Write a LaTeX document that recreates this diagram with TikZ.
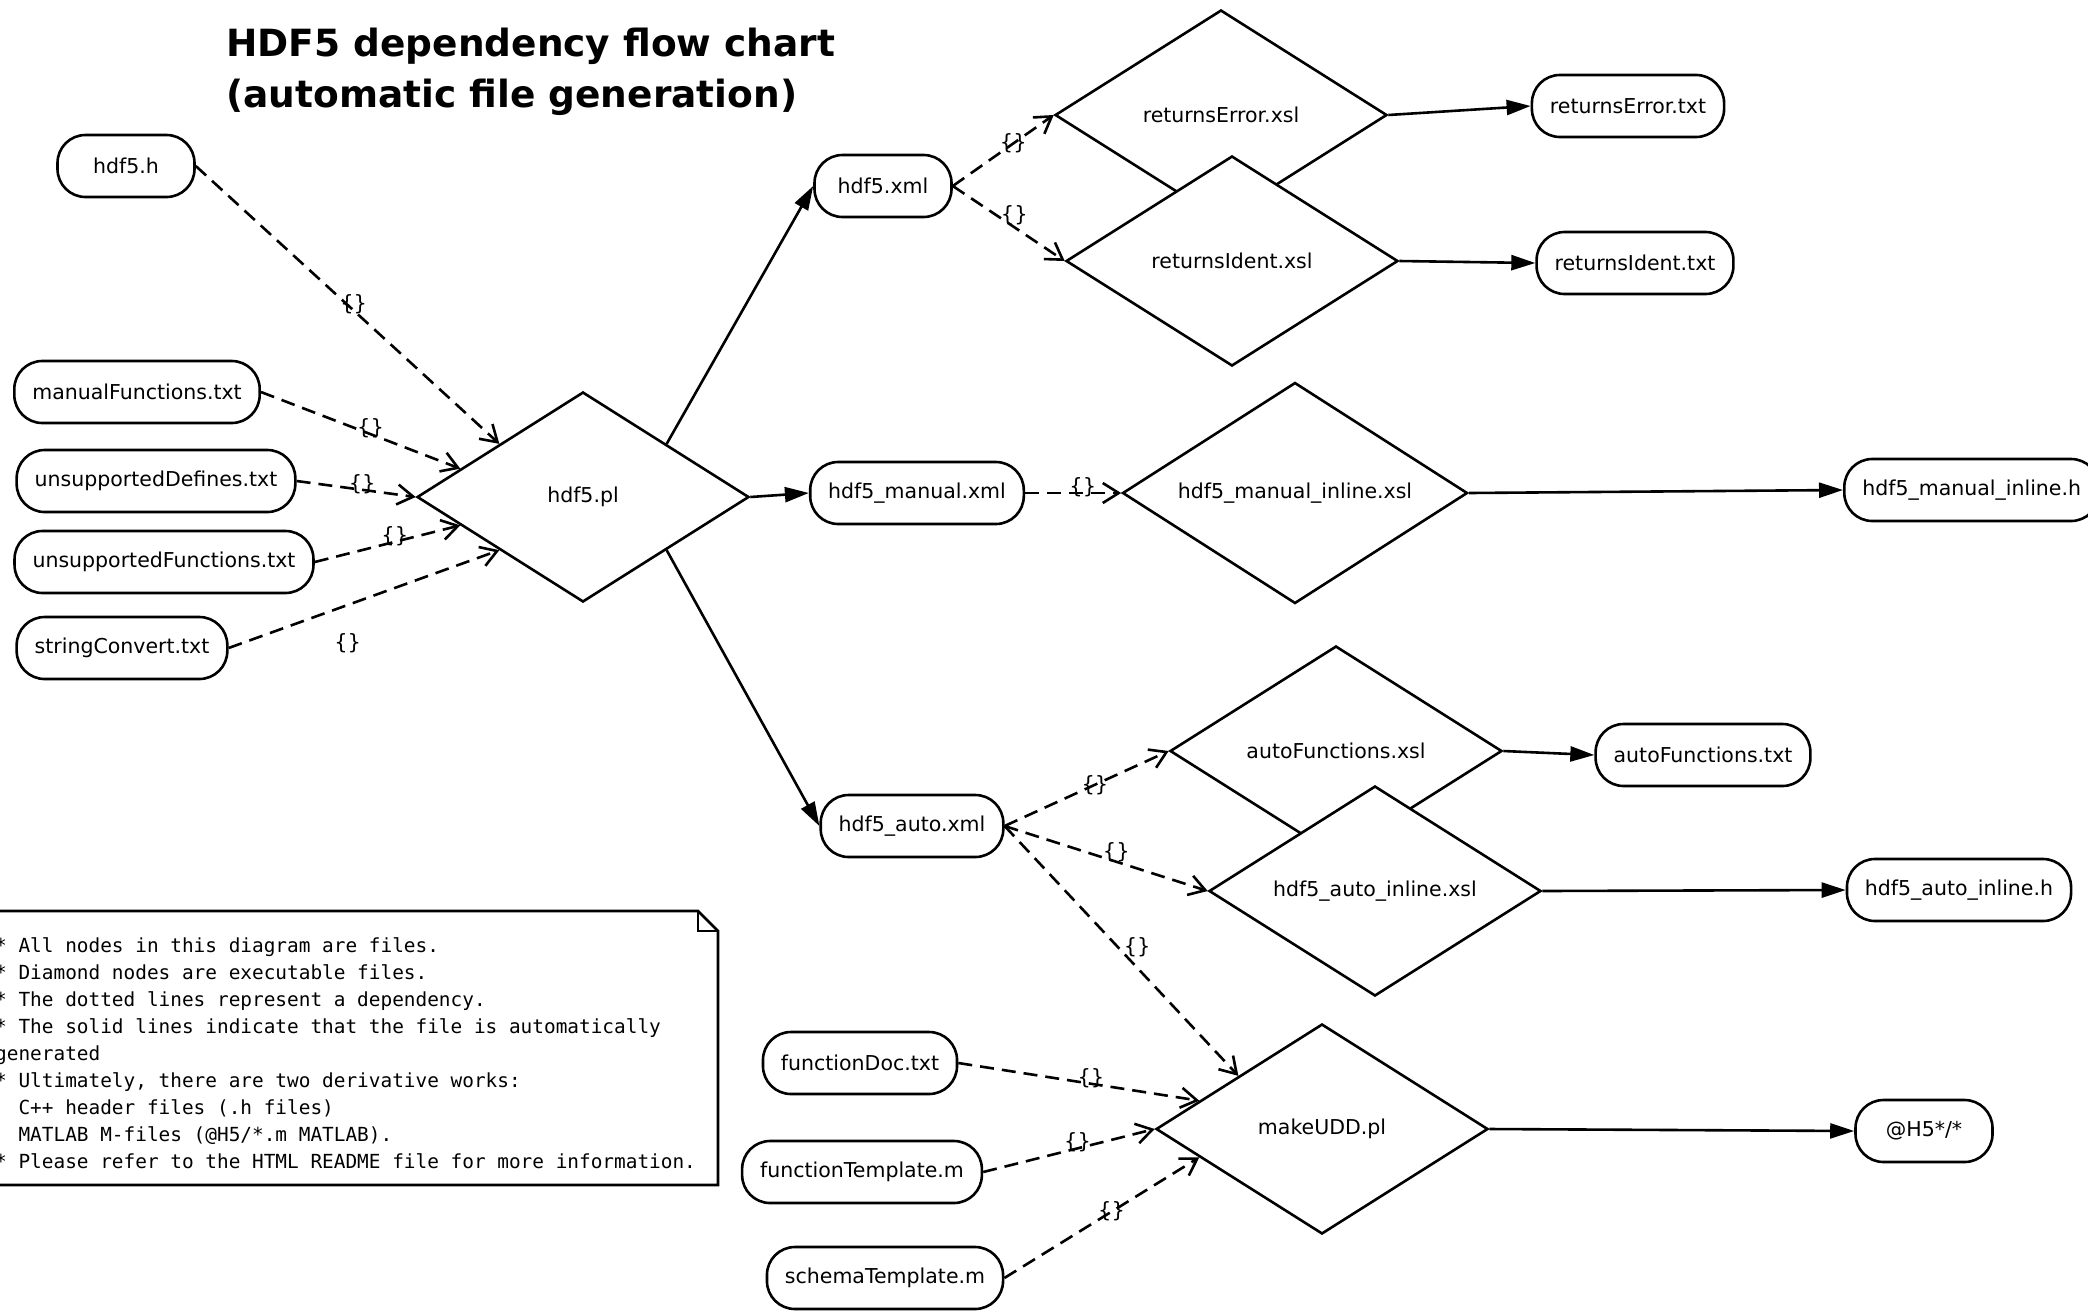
\documentclass[tikz,border=0pt]{standalone}
\usepackage{fontspec}
\setmainfont{DejaVu Sans}
\setmonofont{DejaVu Sans Mono}
\usetikzlibrary{shapes.geometric,arrows.meta}

\begin{document}
\begin{tikzpicture}[x=1pt,y=-1pt,
	file/.style={draw,line width=2.6pt,rounded corners=28pt,minimum width=137pt,minimum height=62pt,inner xsep=18pt,inner ysep=0pt,font=\fontsize{20.5}{24}\selectfont},
	exe/.style={draw,diamond,fill=white,line width=2.6pt,inner sep=0pt,shape aspect=1.58,minimum width=332pt,minimum height=210pt,font=\fontsize{20.5}{24}\selectfont},
	dep/.style={line width=2.6pt,dash pattern=on 14pt off 8pt,-{Straight Barb[length=16pt,width=20pt]}},
	gen/.style={line width=2.6pt,-{Triangle[length=24pt,width=15pt]}},
	lbl/.style={pos=0.55,yshift=6pt,inner sep=0pt,font=\fontsize{21}{24}\selectfont}]
	\useasboundingbox (0,0) rectangle (2088,1310);
	\node[anchor=north west,inner sep=0pt,align=left,font=\bfseries\fontsize{37.5}{50.6}\selectfont] (title) at (226,28) {HDF5 dependency flow chart\\(automatic file generation)};
	\node[file] (1) at (126,166) {hdf5.h};
	\node[file] (2) at (137,392) {manualFunctions.txt};
	\node[file] (3) at (156,481) {unsupportedDefines.txt};
	\node[file] (4) at (164,562) {unsupportedFunctions.txt};
	\node[file] (5) at (122,648) {stringConvert.txt};
	\node[exe] (6) at (583,497) {hdf5.pl};
	\node[file] (7) at (883,186) {hdf5.xml};
	\node[file] (8) at (917,493) {hdf5\_manual.xml};
	\node[file] (9) at (912,826) {hdf5\_auto.xml};
	\node[exe] (10) at (1221,115) {returnsError.xsl};
	\node[exe] (11) at (1232,261) {returnsIdent.xsl};
	\node[file] (12) at (1628,106) {returnsError.txt};
	\node[file] (13) at (1635,263) {returnsIdent.txt};
	\node[exe,minimum width=345pt,minimum height=221pt] (14) at (1295,493) {hdf5\_manual\_inline.xsl};
	\node[file,anchor=west] (15) at (1843,490) {hdf5\_manual\_inline.h};
	\node[exe] (16) at (1336,751) {autoFunctions.xsl};
	\node[exe] (17) at (1375,891) {hdf5\_auto\_inline.xsl};
	\node[file] (18) at (1703,755) {autoFunctions.txt};
	\node[file] (19) at (1959,890) {hdf5\_auto\_inline.h};
	\node[exe] (20) at (1322,1129) {makeUDD.pl};
	\node[file] (21) at (1924,1131) {@H5*/*};
	\node[file] (22) at (860,1063) {functionDoc.txt};
	\node[file] (23) at (862,1172) {functionTemplate.m};
	\node[file] (24) at (885,1278) {schemaTemplate.m};
	\draw[dep] (1.east) -- node[lbl,pos=0.52] {\{\}} (6.north west);
	\draw[dep] (2.east) -- node[lbl] {\{\}} (6.167);
	\draw[dep] (3.east) -- node[lbl] {\{\}} (6.west);
	\draw[dep] (4.east) -- node[lbl] {\{\}} (6.193);
	\draw[dep] (5.east) -- node[lbl,pos=0.44,yshift=-44pt] {\{\}} (6.south west);
	\draw[gen] (6.north east) -- (7.west);
	\draw[gen] (6.east) -- (8.west);
	\draw[gen] (6.south east) -- (9.west);
	\draw[dep] (7.east) -- node[lbl,pos=0.6,yshift=-6pt] {\{\}} (10.west);
	\draw[dep] (7.east) -- node[lbl,yshift=6pt] {\{\}} (11.west);
	\draw[dep] (8.east) -- node[lbl,pos=0.6] {\{\}} (14.west);
	\draw[dep] (9.east) -- node[lbl,yshift=-6pt] {\{\}} (16.west);
	\draw[dep] (9.east) -- node[lbl,yshift=4pt] {\{\}} (17.west);
	\draw[dep] (9.east) -- node[lbl,xshift=4pt,yshift=10pt] {\{\}} (20.north west);
	\draw[dep] (22.east) -- node[lbl] {\{\}} (20.167);
	\draw[dep] (23.east) -- node[lbl] {\{\}} (20.west);
	\draw[dep] (24.east) -- node[lbl,yshift=-6pt] {\{\}} (20.193);
	\draw[gen] (10.east) -- (12.west);
	\draw[gen] (11.east) -- (13.west);
	\draw[gen] (14.east) -- (15.west);
	\draw[gen] (16.east) -- (18.west);
	\draw[gen] (17.east) -- (19.west);
	\draw[gen] (20.east) -- (21.west);
	\draw[line width=2.6pt] (-10,911) -- (698,911) -- (718,931) -- (718,1185) -- (-10,1185) -- cycle;
	\draw[line width=1.6pt] (698,911) -- (698,931) -- (718,931);
	\node[anchor=north west,inner sep=0pt,align=left,font=\ttfamily\fontsize{19.4}{27}\selectfont] (note) at (-5,937) {* All nodes in this diagram are files.\\* Diamond nodes are executable files.\\* The dotted lines represent a dependency.\\* The solid lines indicate that the file is automatically\\generated\\* Ultimately, there are two derivative works:\\\hphantom{* }C++ header files (.h files)\\\hphantom{* }MATLAB M-files (@H5/*.m MATLAB).\\* Please refer to the HTML README file for more information.};
\end{tikzpicture}
\end{document}
